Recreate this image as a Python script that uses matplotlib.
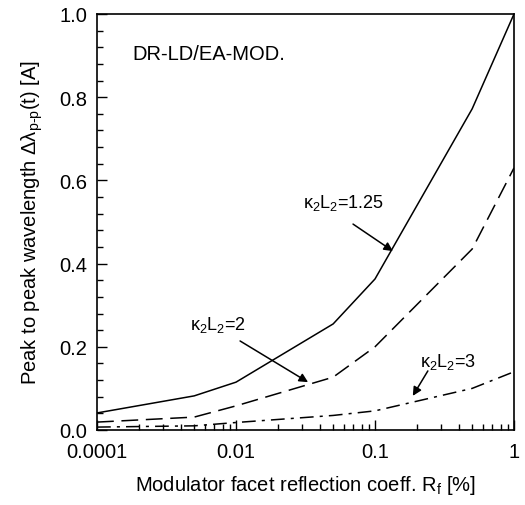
import matplotlib
matplotlib.use("Agg")
import matplotlib.pyplot as plt
from matplotlib.ticker import FixedLocator, LogLocator, MultipleLocator, NullFormatter

plt.rcParams['font.family'] = ['Liberation Sans', 'DejaVu Sans']
plt.rcParams['mathtext.fontset'] = 'custom'
plt.rcParams['mathtext.rm'] = 'Liberation Sans'
plt.rcParams['mathtext.it'] = 'Liberation Sans:italic'
plt.rcParams['mathtext.bf'] = 'Liberation Sans:bold'

# data (x positions on the drawn log axis; first tick is labelled "0.0001")
rf = [0.001, 0.005, 0.01, 0.05, 0.1, 0.5, 1.0]
k125 = [0.041, 0.082, 0.115, 0.255, 0.363, 0.772, 1.0]
k2 = [0.019, 0.031, 0.058, 0.127, 0.20, 0.435, 0.63]
k3 = [0.007, 0.010, 0.018, 0.035, 0.046, 0.100, 0.14]
xticks = [0.001, 0.01, 0.1, 1.0]
xticklabels = ["0.0001", "0.01", "0.1", "1"]
yticks = [0.0, 0.2, 0.4, 0.6, 0.8, 1.0]

fig = plt.figure(figsize=(5.25, 5.06), dpi=100)
ax = fig.add_axes([97/525, 1-431/506, 417/525, 416/506])

ax.plot(rf, k125, color='black', lw=1.1, ls='-')
ax.plot(rf, k2, color='black', lw=1.1, ls=(0, (11, 5)))
ax.plot(rf, k3, color='black', lw=1.1, ls=(0, (9, 4, 2, 4)))

ax.set_xscale('log')
ax.set_xlim(0.001, 1.0)
ax.set_ylim(0.0, 1.0)
ax.xaxis.set_major_locator(FixedLocator(xticks))
ax.set_xticklabels(xticklabels)
ax.xaxis.set_minor_locator(LogLocator(base=10, subs=range(2, 10)))
ax.xaxis.set_minor_formatter(NullFormatter())
ax.set_yticks(yticks)
ax.set_yticklabels([f"{v:.1f}" for v in yticks])
ax.yaxis.set_minor_locator(MultipleLocator(0.04))

ax.tick_params(which='both', direction='in', top=False, right=False, width=1.0)
ax.tick_params(which='major', length=7)
ax.tick_params(which='minor', length=4)
ax.tick_params(axis='x', which='major', labelsize=14.5, pad=9)
ax.tick_params(axis='y', which='major', labelsize=14.5, pad=7)
for s in ax.spines.values():
    s.set_linewidth(1.2)

ax.set_xlabel(r'Modulator facet reflection coeff. R$_\mathrm{f}$ [%]', fontsize=14.5, labelpad=8)
ax.set_ylabel(r'Peak to peak wavelength Δλ$_{\mathrm{p\text{-}p}}$(t) [A]', fontsize=14.5, labelpad=10)

ax.text(0.085, 0.905, 'DR-LD/EA-MOD.', transform=ax.transAxes, fontsize=14.5, ha='left', va='center')

arrow = dict(arrowstyle='-|>', color='black', lw=1.1, mutation_scale=13, shrinkA=0, shrinkB=0)
ax.annotate('', xy=(0.1346, 0.43), xytext=(0.0695, 0.495), arrowprops=arrow)
ax.text(0.059, 0.548, 'κ$_2$L$_2$=1.25', fontsize=13, ha='center', va='center')
ax.annotate('', xy=(0.033, 0.115), xytext=(0.0107, 0.214), arrowprops=arrow)
ax.text(0.0074, 0.255, 'κ$_2$L$_2$=2', fontsize=13, ha='center', va='center')
ax.annotate('', xy=(0.187, 0.082), xytext=(0.24, 0.142), arrowprops=arrow)
ax.text(0.335, 0.166, 'κ$_2$L$_2$=3', fontsize=13, ha='center', va='center')

fig.savefig('out.png', dpi=100)
